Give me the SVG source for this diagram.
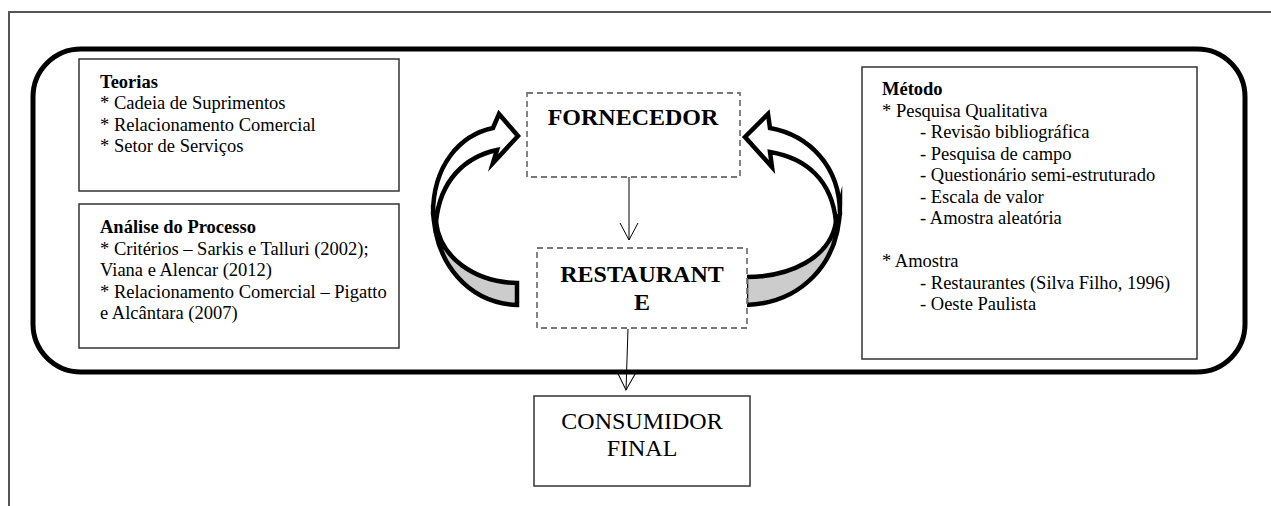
<svg xmlns="http://www.w3.org/2000/svg" width="1271" height="506" viewBox="0 0 1271 506">
<style>
.frame{fill:none;stroke:#555;stroke-width:2}
.outer{fill:none;stroke:#000;stroke-width:5}
.box{fill:#fff;stroke:#333;stroke-width:1.5}
.dbox{fill:#fff;stroke:#777;stroke-width:1.8;stroke-dasharray:6 4}
.t{font-family:"Liberation Serif","Times New Roman",serif;font-size:18.5px;fill:#000}
.b{font-weight:bold}
.big{font-family:"Liberation Serif","Times New Roman",serif;font-size:24px;fill:#000}
.arr{stroke:#000;stroke-width:4.5;stroke-linejoin:miter;stroke-miterlimit:10}
.conn{stroke:#000;stroke-width:1;fill:none}
</style>
<defs>
<marker id="vhead" markerUnits="userSpaceOnUse" viewBox="-19 -11 21 22" markerWidth="21" markerHeight="22" refX="0" refY="0" orient="auto" overflow="visible">
<path d="M-17,-9 L0,0 L-17,9" fill="none" stroke="#000" stroke-width="1"/>
</marker>
</defs>
<g id="page-frame">
<path class="frame" d="M9,506 L9,12 L1271,12"/>
</g>
<g id="outer-frame">
<rect class="outer" x="33" y="49" width="1212" height="323" rx="48" ry="48"/>
</g>
<g id="teorias">
<rect class="box" x="79" y="59" width="320" height="132"/>
<text class="t" x="100"><tspan class="b" x="100" y="87.5">Teorias</tspan><tspan x="100" y="109">* Cadeia de Suprimentos</tspan><tspan x="100" y="130.5">* Relacionamento Comercial</tspan><tspan x="100" y="152">* Setor de Serviços</tspan></text>
</g>
<g id="analise">
<rect class="box" x="79" y="204" width="320" height="144"/>
<text class="t"><tspan class="b" x="100" y="233">Análise do Processo</tspan><tspan x="100" y="254.5">* Critérios – Sarkis e Talluri (2002);</tspan><tspan x="100" y="276">Viana e Alencar (2012)</tspan><tspan x="100" y="297.5">* Relacionamento Comercial – Pigatto</tspan><tspan x="100" y="319">e Alcântara (2007)</tspan></text>
</g>
<g id="metodo">
<rect class="box" x="862" y="67" width="335" height="292"/>
<text class="t"><tspan class="b" x="882" y="95">Método</tspan><tspan x="882" y="116.5">* Pesquisa Qualitativa</tspan><tspan x="920" y="138">- Revisão bibliográfica</tspan><tspan x="920" y="159.5">- Pesquisa de campo</tspan><tspan x="920" y="181">- Questionário semi-estruturado</tspan><tspan x="920" y="202.5">- Escala de valor</tspan><tspan x="920" y="224">- Amostra aleatória</tspan><tspan x="882" y="267">* Amostra</tspan><tspan x="920" y="288.5">- Restaurantes (Silva Filho, 1996)</tspan><tspan x="920" y="310">- Oeste Paulista</tspan></text>
</g>
<g id="cycle-arrows">
<path class="arr" fill="#cccccc" d="M433,205 C433,265 470,303 517,305 L517,283 C475,282 440,258 436,222 Z"/>
<path class="arr" fill="#fff" d="M433,214 C433,165 460,135 493,128 L499,114 L518,136 L493,163 L497,150 C465,157 440,180 436,222 Z"/>
<path class="arr" fill="#cccccc" d="M840,205 C840,265 800,303 746,305 L746,277 C790,277 830,258 836,222 Z"/>
<path class="arr" fill="#fff" d="M840,214 C840,165 808,135 770,128 L768,114 L745,137 L772,167 L770,152 C806,158 832,180 836,222 Z"/>
</g>
<g id="fornecedor">
<rect class="dbox" x="527" y="93" width="213" height="84"/>
<text class="big b" x="633" y="125" text-anchor="middle">FORNECEDOR</text>
</g>
<g id="restaurante">
<rect class="dbox" x="537" y="248" width="210" height="80"/>
<text class="big b" text-anchor="middle"><tspan x="642" y="282">RESTAURANT</tspan><tspan x="642" y="310">E</tspan></text>
</g>
<g id="consumidor">
<rect class="box" x="534" y="396" width="216" height="90"/>
<text class="big" text-anchor="middle"><tspan x="642" y="429">CONSUMIDOR</tspan><tspan x="642" y="456">FINAL</tspan></text>
</g>
<g id="connectors">
<line class="conn" x1="629" y1="177" x2="629" y2="240" marker-end="url(#vhead)"/>
<line class="conn" x1="628" y1="329" x2="626" y2="390" marker-end="url(#vhead)"/>
</g>
</svg>
